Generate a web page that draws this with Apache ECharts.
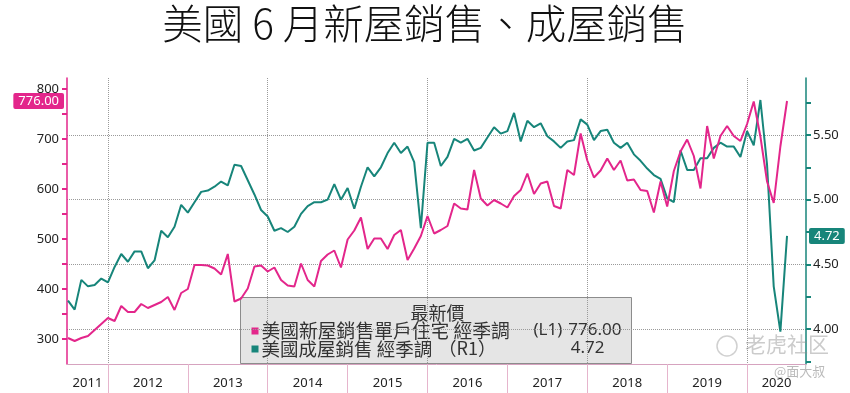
<!DOCTYPE html>
<html>
<head>
<meta charset="utf-8">
<script src="https://cdn.jsdelivr.net/npm/echarts@6/dist/echarts.min.js"></script>
<style>
html,body{margin:0;padding:0;background:#ffffff;}
#chart{width:850px;height:393px;}
</style>
</head>
<body>
<div id="chart"></div>
<script>
// ---------------- data ----------------
const chartTitle = '美國 6 月新屋銷售、成屋銷售';
const firstYear = 2011;      // first calendar year shown on the axis
const firstMonth = 6;        // first data month (June 2011), monthly through June 2020

// US new single-family home sales, SA (thousands) – left axis (L1)
const newHomeSales = [
  302, 296, 302, 306, 318, 330, 342,                                   // 2011 Jun-Dec
  336, 366, 354, 354, 370, 362, 368, 374, 384, 358, 392, 400,          // 2012
  448, 448, 447, 441, 429, 470, 375, 381, 401, 445, 447, 435,          // 2013
  443, 418, 407, 405, 451, 418, 405, 456, 469, 477, 443, 499,          // 2014
  517, 543, 480, 501, 501, 480, 508, 518, 458, 481, 506, 546,          // 2015
  511, 518, 526, 571, 561, 559, 638, 581, 567, 578, 571, 563,          // 2016
  586, 598, 631, 590, 611, 615, 566, 561, 638, 628, 711, 657,          // 2017
  623, 637, 661, 638, 657, 617, 619, 598, 596, 553, 615, 565,          // 2018
  636, 675, 699, 666, 601, 726, 661, 706, 726, 706, 696, 730,          // 2019
  775, 705, 615, 572, 685, 776                                         // 2020 Jan-Jun
];

// US existing home sales, SA (millions) – right axis (R1)
const existingHomeSales = [
  4.22, 4.15, 4.38, 4.33, 4.34, 4.39, 4.36,                                  // 2011 Jun-Dec
  4.48, 4.58, 4.52, 4.60, 4.60, 4.47, 4.53, 4.76, 4.71, 4.79, 4.96, 4.90,    // 2012
  4.98, 5.06, 5.07, 5.10, 5.14, 5.11, 5.27, 5.26, 5.15, 5.04, 4.92, 4.87,    // 2013
  4.76, 4.78, 4.75, 4.79, 4.89, 4.95, 4.98, 4.98, 5.00, 5.12, 5.00, 5.09,    // 2014
  4.93, 5.10, 5.25, 5.18, 5.25, 5.36, 5.44, 5.36, 5.41, 5.29, 4.78, 5.44,    // 2015
  5.44, 5.26, 5.33, 5.47, 5.44, 5.47, 5.38, 5.40, 5.48, 5.56, 5.51, 5.53,    // 2016
  5.67, 5.45, 5.61, 5.56, 5.59, 5.49, 5.45, 5.40, 5.45, 5.46, 5.62, 5.58,    // 2017
  5.46, 5.53, 5.54, 5.44, 5.40, 5.44, 5.35, 5.30, 5.24, 5.19, 5.16, 5.01,    // 2018
  4.98, 5.38, 5.23, 5.23, 5.32, 5.32, 5.40, 5.44, 5.41, 5.41, 5.33, 5.53,    // 2019
  5.42, 5.77, 5.27, 4.33, 3.98, 4.72                                         // 2020 Jan-Jun
];

const yearLabels = ['2011','2012','2013','2014','2015','2016','2017','2018','2019','2020'];
const leftTickLabels = [300, 400, 500, 600, 700, 800];
const leftMinorTicks = [300, 350, 400, 450, 500, 550, 600, 650, 700, 750, 800];
const rightTickLabels = [4.0, 4.5, 5.0, 5.5];
const rightMinorTicks = [3.75, 4.0, 4.25, 4.5, 4.75, 5.0, 5.25, 5.5, 5.75];

const legendHeader = '最新價';
const legendNames = ['美國新屋銷售單戶住宅 經季調', '美國成屋銷售 經季調'];
const legendAxisTags = ['(L1)', '（R1）'];

// ---------------- styling / layout ----------------
const PINK = '#e3268b';
const TEAL = '#17857a';
const CJK = '"Noto Sans CJK TC", "Noto Sans CJK SC", sans-serif';
const LATIN = '"Noto Sans", "DejaVu Sans", sans-serif';

// x axis in "months since 1 Jan 2011"; a month's value is drawn at its month end
const xMin = 5.85, xMax = 116.85;
const yearBounds = yearLabels.slice(1).map((y, k) => (k + 1) * 12);
const yearCenters = yearLabels.map((y, k) => (Math.max(xMin, k * 12) + Math.min(xMax, (k + 1) * 12)) / 2);
const twoYearGrid = yearBounds.filter((b, k) => k % 2 === 0);

const pinkData = newHomeSales.map((v, i) => [firstMonth + i, v]);
const tealData = existingHomeSales.map((v, i) => [firstMonth + i, v]);
const lastPink = newHomeSales[newHomeSales.length - 1];
const lastTeal = existingHomeSales[existingHomeSales.length - 1];

const chart = echarts.init(document.getElementById('chart'), null, {renderer: 'canvas'});

const option = {
  animation: false,
  backgroundColor: '#ffffff',
  title: {
    text: chartTitle,
    left: 'center',
    top: 3,
    padding: 0,
    textStyle: {fontSize: 40.5, fontWeight: 300, color: '#111', fontFamily: CJK}
  },
  grid: {left: 67, right: 44, top: 78, bottom: 29, containLabel: false},
  xAxis: [
    {
      type: 'value', min: xMin, max: xMax, position: 'bottom',
      axisLine: {show: true, lineStyle: {color: '#d6a3bf', width: 1}},
      axisTick: {show: true, customValues: yearBounds, length: 29, inside: false,
                 lineStyle: {color: '#e6b5cd', width: 1}},
      axisLabel: {show: true, customValues: yearCenters, margin: 13,
                  formatter: v => yearLabels[Math.floor(v / 12)],
                  fontSize: 13, color: '#222', fontFamily: LATIN},
      splitLine: {show: false}
    },
    {
      type: 'value', min: xMin, max: xMax, position: 'top',
      axisLine: {show: false}, axisLabel: {show: false},
      axisTick: {show: false, customValues: twoYearGrid},
      splitLine: {show: true, lineStyle: {type: 'dotted', color: '#9a9a9a', width: 1}}
    }
  ],
  yAxis: [
    {
      type: 'value', position: 'left', min: 250, max: 822,
      axisLine: {show: true, lineStyle: {color: PINK, width: 1.5}},
      axisTick: {show: true, customValues: leftMinorTicks, length: 5, lineStyle: {color: PINK, width: 2}},
      axisLabel: {show: true, customValues: leftTickLabels, margin: 8,
                  fontSize: 13, color: '#222', fontFamily: LATIN},
      splitLine: {show: false},
      axisPointer: {
        show: true, type: 'none', status: 'show', value: lastPink, triggerOn: 'none', triggerTooltip: false,
        label: {show: true, formatter: () => lastPink.toFixed(2), backgroundColor: PINK, color: '#fff',
                padding: [2, 5, 1, 5], margin: 3, fontSize: 13, fontFamily: LATIN, borderRadius: 2}
      }
    },
    {
      type: 'value', position: 'right', min: 3.73, max: 5.94,
      axisLine: {show: true, lineStyle: {color: TEAL, width: 1.5}},
      axisTick: {show: true, customValues: rightMinorTicks, length: 5, lineStyle: {color: TEAL, width: 2}},
      axisLabel: {show: true, customValues: rightTickLabels, margin: 7, formatter: v => v.toFixed(2),
                  fontSize: 13, color: '#222', fontFamily: LATIN},
      splitLine: {show: false},
      axisPointer: {
        show: true, type: 'none', status: 'show', value: lastTeal, triggerOn: 'none', triggerTooltip: false,
        label: {show: true, formatter: () => lastTeal.toFixed(2), backgroundColor: TEAL, color: '#fff',
                padding: [2, 5, 1, 5], margin: 3, fontSize: 13, fontFamily: LATIN, borderRadius: 2}
      }
    },
    {
      type: 'value', position: 'right', min: 3.73, max: 5.94,
      axisLine: {show: false}, axisLabel: {show: false},
      axisTick: {show: false, customValues: rightTickLabels},
      splitLine: {show: true, lineStyle: {type: 'dotted', color: '#9a9a9a', width: 1}}
    }
  ],
  series: [
    {
      name: legendNames[1], type: 'line', xAxisIndex: 0, yAxisIndex: 1, data: tealData,
      symbol: 'none', lineStyle: {color: TEAL, width: 2}, itemStyle: {color: TEAL}, z: 3
    },
    {
      name: legendNames[0], type: 'line', xAxisIndex: 0, yAxisIndex: 0, data: pinkData,
      symbol: 'none', lineStyle: {color: PINK, width: 2}, itemStyle: {color: PINK}, z: 4
    }
  ],
  graphic: [
    // faint watermarks
    {type: 'circle', shape: {cx: 727, cy: 346, r: 10}, style: {fill: 'none', stroke: 'rgba(150,150,150,0.45)', lineWidth: 1.5}, z: 50},
    {type: 'text', left: 745, top: 334, style: {text: '老虎社区', font: '21px "Noto Sans CJK SC"', fill: 'rgba(140,140,140,0.45)'}, z: 50},
    {type: 'text', left: 774, top: 365, style: {text: '@面大叔', font: '13px "Noto Sans CJK SC"', fill: 'rgba(140,140,140,0.6)'}, z: 50},
    // latest value box
    {
      type: 'group', left: 240, top: 297, z: 100,
      children: [
        {type: 'rect', shape: {x: 0, y: 0, width: 391, height: 66},
         style: {fill: '#e5e5e5', stroke: '#8c8c8c', lineWidth: 1}},
        {type: 'text', x: 197, y: 16, style: {text: legendHeader, font: '18px ' + CJK, fill: '#333',
          align: 'center', verticalAlign: 'middle'}},
        {type: 'rect', shape: {x: 11, y: 30, width: 7, height: 7}, style: {fill: PINK}},
        {type: 'text', x: 21, y: 33, style: {text: legendNames[0], font: '18.8px ' + CJK, fill: '#333',
          verticalAlign: 'middle'}},
        {type: 'text', x: 293, y: 33, style: {text: legendAxisTags[0], font: '17px ' + LATIN, fill: '#333',
          verticalAlign: 'middle'}},
        {type: 'text', x: 381, y: 33, style: {text: lastPink.toFixed(2), font: '17px ' + LATIN, fill: '#333',
          align: 'right', verticalAlign: 'middle'}},
        {type: 'rect', shape: {x: 11, y: 48, width: 7, height: 7}, style: {fill: TEAL}},
        {type: 'text', x: 21, y: 51, style: {text: legendNames[1], font: '18.5px ' + CJK, fill: '#333',
          verticalAlign: 'middle'}},
        {type: 'text', x: 198, y: 51, style: {text: legendAxisTags[1], font: '18px ' + CJK, fill: '#333',
          verticalAlign: 'middle'}},
        {type: 'text', x: 364, y: 51, style: {text: lastTeal.toFixed(2), font: '17px ' + LATIN, fill: '#333',
          align: 'right', verticalAlign: 'middle'}}
      ]
    }
  ]
};
chart.setOption(option);
</script>
</body>
</html>
